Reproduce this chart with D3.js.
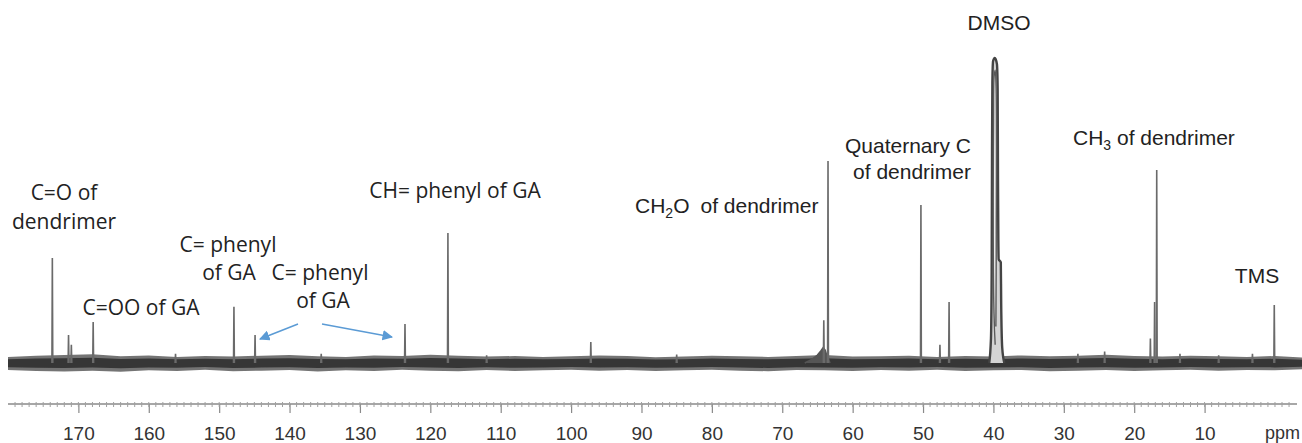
<!DOCTYPE html>
<html>
<head>
<meta charset="utf-8">
<script src="https://cdn.jsdelivr.net/npm/d3@7/dist/d3.min.js"></script>
<style>
body { margin: 0; background: #fff; }
svg { display: block; }
</style>
</head>
<body>
<div id="chart"></div>
<script>
//
// 13C NMR spectrum (D3)
//

// sharp lines: chemical shift (ppm) and intensity (DMSO = 100)
var peakPpm    = [173.7, 171.4, 171.0, 167.9, 156.2, 147.9, 144.9, 135.5, 123.6, 117.5, 112.0, 97.2, 85.0, 64.1, 63.5, 50.3, 47.6, 46.3, 28.0, 24.2, 17.7, 17.1, 16.8, 13.5, 8.0, 3.2, 0.1];
var peakHeight = [34.4, 9.2, 6.0, 13.4, 3.0, 18.4, 9.2, 3.0, 12.8, 42.6, 2.5, 6.9, 2.8, 14.0, 66.2, 51.8, 6.0, 20.0, 3.0, 3.8, 8.0, 20.0, 63.3, 3.0, 2.5, 3.0, 19.0];

// broad hump under the CH2O line
var humpPpm    = [66.8, 65.8, 65.0, 64.5, 64.2, 63.9, 63.6, 63.2];
var humpHeight = [0, 1.2, 2.6, 4.0, 5.0, 4.2, 2.0, 0];

// DMSO multiplet outline and inner edge
var dmsoPpm    = [40.6, 40.35, 40.25, 40.2, 40.15, 40.05, 39.8, 39.5, 39.4, 39.35, 39.3, 39.25, 38.95, 38.9, 38.75, 38.45];
var dmsoHeight = [0, 8, 30, 70, 92, 99, 100, 98, 90, 60, 40, 34, 33, 20, 5, 0];
var dmsoInPpm    = [39.75, 39.95, 39.98, 39.9, 39.75, 39.62, 39.6, 39.65];
var dmsoInHeight = [6, 20, 80, 94, 96, 90, 40, 12];

// baseline noise envelope, every 4 ppm from 180 down to -4
var noisePpm = d3.range(180, -5, -4);
var noiseHi = [2.0, 2.4, 2.6, 2.9, 2.2, 2.5, 2.0, 2.3, 2.1, 2.4, 2.6, 2.2, 2.0, 2.5, 2.3, 2.7, 2.4, 2.1, 2.3, 2.0, 2.2, 2.5, 2.3, 1.9, 2.1, 2.4, 2.2, 2.0, 2.3, 2.6, 2.1, 2.2, 2.4, 2.0, 2.3, 2.1, 2.5, 2.2, 2.4, 2.7, 2.3, 2.1, 2.4, 2.2, 2.0, 2.3, 1.8];
var noiseLo = [2.3, 2.6, 2.8, 2.5, 2.9, 2.4, 2.6, 2.2, 2.7, 2.5, 2.3, 2.8, 2.4, 2.6, 2.2, 2.5, 2.7, 2.3, 2.6, 2.4, 2.2, 2.5, 2.3, 2.6, 2.4, 2.2, 2.5, 2.7, 2.3, 2.4, 2.6, 2.3, 2.5, 2.2, 2.6, 2.4, 2.3, 2.7, 2.5, 2.3, 2.6, 2.4, 2.2, 2.5, 2.3, 2.4, 2.0];

// axis
var majorTicks = [170, 160, 150, 140, 130, 120, 110, 100, 90, 80, 70, 60, 50, 40, 30, 20, 10];
var axisUnit = "ppm";

var width = 1302;
var height = 443;
var baseY = 363;
var axisY = 404;

var svg = d3.select("#chart")
    .append("svg")
    .attr("width", width)
    .attr("height", height);

var x = d3.scaleLinear().domain([180, -3.2]).range([8, 1297.5]);
var y = d3.scaleLinear().domain([0, 100]).range([baseY, 58]);

// baseline noise band
var outerArea = d3.area()
    .x(function (d, i) { return x(noisePpm[i]); })
    .y0(function (d, i) { return y(-noiseLo[i]); })
    .y1(function (d, i) { return y(noiseHi[i]); });
var innerArea = d3.area()
    .x(function (d, i) { return x(noisePpm[i]); })
    .y0(function (d, i) { return y(-noiseLo[i] * 0.6); })
    .y1(function (d, i) { return y(noiseHi[i] * 0.6); });

svg.append("path")
    .datum(noisePpm)
    .attr("d", outerArea)
    .attr("fill", "#747474");
svg.append("path")
    .datum(noisePpm)
    .attr("d", innerArea)
    .attr("fill", "#363636");

// hump
var line = d3.line()
    .x(function (d) { return x(d[0]); })
    .y(function (d) { return y(d[1]); });

svg.append("path")
    .datum(d3.zip(humpPpm, humpHeight))
    .attr("d", line)
    .attr("fill", "#555")
    .attr("stroke", "#555")
    .attr("stroke-width", 1.5);

// sharp lines
svg.append("g")
    .selectAll("path")
    .data(d3.zip(peakPpm, peakHeight))
    .enter()
    .append("path")
    .attr("d", function (d) { return line([[d[0] + 0.06, 0], [d[0], d[1]], [d[0] - 0.06, 0]]); })
    .attr("fill", "none")
    .attr("stroke", "#6a6a6a")
    .attr("stroke-width", 1.6);

// DMSO
svg.append("path")
    .datum(d3.zip(dmsoPpm, dmsoHeight))
    .attr("d", d3.line().x(function (d) { return x(d[0]); }).y(function (d) { return y(d[1]); }).curve(d3.curveMonotoneX))
    .attr("fill", "#d4d4d4")
    .attr("stroke", "#444")
    .attr("stroke-width", 2.4);
svg.append("path")
    .datum(d3.zip(dmsoInPpm, dmsoInHeight))
    .attr("d", d3.line().x(function (d) { return x(d[0]); }).y(function (d) { return y(d[1]); }).curve(d3.curveCatmullRom))
    .attr("fill", "#ececec")
    .attr("stroke", "#5a5a5a")
    .attr("stroke-width", 1.4);

// x axis (ruler)
var xAxis = d3.axisBottom(x)
    .tickValues(majorTicks)
    .tickSize(9)
    .tickPadding(14)
    .tickFormat(d3.format("d"));

var gx = svg.append("g")
    .attr("class", "x axis")
    .attr("transform", "translate(0," + axisY + ")")
    .call(xAxis);
gx.select(".domain").attr("stroke", "#8a8a8a").attr("stroke-width", 1.6).attr("d", "M8,0H1297");
gx.selectAll(".tick line").attr("stroke", "#8a8a8a").attr("stroke-width", 1.2);
gx.selectAll(".tick text")
    .attr("fill", "#333")
    .style("font-family", "'Liberation Sans', Arial, sans-serif")
    .style("font-size", "19px");

svg.append("g")
    .selectAll("line")
    .data(d3.range(179, -3, -1))
    .enter()
    .append("line")
    .attr("x1", function (d) { return x(d); })
    .attr("x2", function (d) { return x(d); })
    .attr("y1", axisY - 2)
    .attr("y2", axisY + 3)
    .attr("stroke", "#a0a0a0")
    .attr("stroke-width", 1);

svg.append("text")
    .attr("x", 1265)
    .attr("y", 439)
    .attr("fill", "#333")
    .style("font-family", "'Liberation Sans', Arial, sans-serif")
    .style("font-size", "18px")
    .text(axisUnit);

// annotations
var humanist = "'Open Sans', sans-serif";
var arial = "'Liberation Sans', Arial, sans-serif";

function label(txt, cx, by, font, anchor) {
    return svg.append("text")
        .attr("x", cx)
        .attr("y", by)
        .attr("fill", "#222")
        .attr("text-anchor", anchor || "middle")
        .style("font-family", font)
        .style("font-size", "21px")
        .text(txt);
}

label("C=O of", 64, 200, humanist);
label("dendrimer", 64, 229, humanist);
label("C=OO of GA", 141, 315, humanist);
label("C= phenyl", 228, 252, humanist);
label("of GA", 229, 280, humanist);
label("C= phenyl", 320, 280, humanist);
label("of GA", 323, 308, humanist);
label("CH= phenyl of GA", 455, 198, humanist);

var ch2o = svg.append("text")
    .attr("x", 635).attr("y", 213)
    .attr("fill", "#222")
    .style("font-family", arial)
    .style("font-size", "21px");
ch2o.append("tspan").text("CH");
ch2o.append("tspan").attr("dy", 5).style("font-size", "14px").text("2");
ch2o.append("tspan").attr("dy", -5).text("O");
ch2o.append("tspan").attr("dx", 11).text("of dendrimer");

label("Quaternary C", 908, 153, arial);
label("of dendrimer", 912, 179, arial);
label("DMSO", 999, 30, arial);

var ch3 = svg.append("text")
    .attr("x", 1073).attr("y", 145)
    .attr("fill", "#222")
    .style("font-family", arial)
    .style("font-size", "21px");
ch3.append("tspan").text("CH");
ch3.append("tspan").attr("dy", 5).style("font-size", "14px").text("3");
ch3.append("tspan").attr("dy", -5).text(" of dendrimer");

label("TMS", 1257, 283, arial);

// arrows
var defs = svg.append("defs");
defs.append("marker")
    .attr("id", "arrowHead")
    .attr("viewBox", "0 0 10 10")
    .attr("refX", 9)
    .attr("refY", 5)
    .attr("markerWidth", 7)
    .attr("markerHeight", 7)
    .attr("orient", "auto")
    .append("path")
    .attr("d", "M0,0L10,5L0,10z")
    .attr("fill", "#5b9bd5");

svg.append("line")
    .attr("x1", 298).attr("y1", 324).attr("x2", 260).attr("y2", 339)
    .attr("stroke", "#5b9bd5").attr("stroke-width", 1.5)
    .attr("marker-end", "url(#arrowHead)");
svg.append("line")
    .attr("x1", 322).attr("y1", 324).attr("x2", 392).attr("y2", 337)
    .attr("stroke", "#5b9bd5").attr("stroke-width", 1.5)
    .attr("marker-end", "url(#arrowHead)");
</script>
</body>
</html>
